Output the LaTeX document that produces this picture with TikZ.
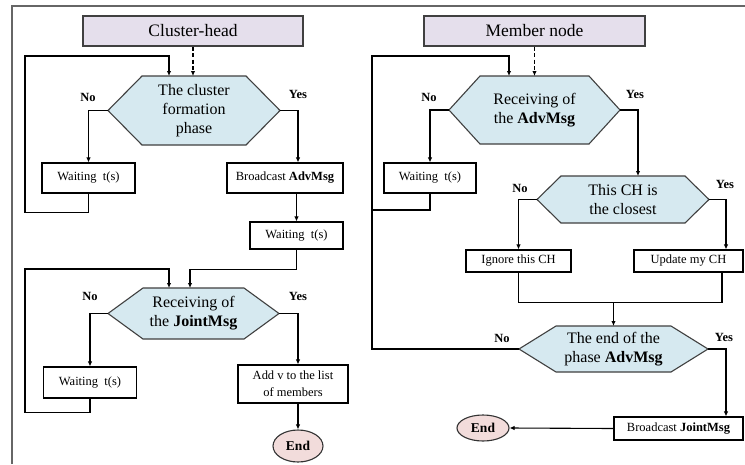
\documentclass[tikz,border=0pt]{standalone}
\usepackage{fontspec}
\setmainfont{Liberation Serif}
\usetikzlibrary{arrows.meta,calc,shapes.geometric}
\definecolor{lav}{HTML}{E5DFEC}
\definecolor{hexblue}{HTML}{D6E9F0}
\definecolor{endpink}{HTML}{F2DCDB}
\tikzset{
 box/.style={draw=black,line width=1.1pt,fill=white,inner sep=0pt,font=\fontsize{12.5}{17}\selectfont,align=center},
 hdr/.style={draw=black!75,line width=1.1pt,fill=lav,font=\fontsize{17.5}{20}\selectfont,inner sep=0pt},
 hexst/.style={draw=black!75,line width=1.1pt,fill=hexblue},
 hextxt/.style={font=\fontsize{16}{19}\selectfont,align=center,inner sep=0pt},
 endst/.style={ellipse,draw=black!80,line width=1.1pt,fill=endpink,font=\bfseries\fontsize{13.5}{16}\selectfont,inner sep=0pt},
 conn/.style={line width=1.1pt,-{Latex[length=5pt,width=4.5pt]}},
 plain/.style={line width=1.1pt},
 lbl/.style={font=\bfseries\fontsize{12.5}{15}\selectfont},
 dashconn/.style={conn,dash pattern=on 4pt off 2.5pt},
}
% name, cx, cy, halfwidth, halfheight, inset, text
\newcommand\mkhex[7]{%
 \draw[hexst] (#2-#4,#3) -- (#2-#4+#6,#3-#5) -- (#2+#4-#6,#3-#5) -- (#2+#4,#3) -- (#2+#4-#6,#3+#5) -- (#2-#4+#6,#3+#5) -- cycle;
 \coordinate (#1-l) at (#2-#4,#3);
 \coordinate (#1-r) at (#2+#4,#3);
 \coordinate (#1-t) at (#2,#3-#5);
 \node[hextxt] (#1) at (#2,#3) {#7};
}
\begin{document}
\begin{tikzpicture}[x=1pt,y=-1pt]
\useasboundingbox (0,0) rectangle (745,464);
\fill[white] (0,0) rectangle (745,464);
\draw[black!60,line width=2pt] (12,464) -- (12,6) -- (745,6);

% ---------- Cluster-head ----------
\node[hdr,minimum width=220pt,minimum height=30pt] (hdr1) at (193,31) {Cluster-head};
\mkhex{h1}{194}{110.5}{86}{34.5}{34}{The cluster\\formation\\phase}
\node[box,minimum width=93pt,minimum height=30pt] (w1) at (88.5,178) {Waiting~~t(s)};
\node[box,minimum width=116pt,minimum height=30pt] (bA) at (285,178) {Broadcast \textbf{AdvMsg}};
\node[box,minimum width=93pt,minimum height=27pt] (w2) at (296.5,235.5) {Waiting~~t(s)};
\mkhex{h2}{193.5}{313.5}{85.5}{25.5}{35}{Receiving of\\the \textbf{JointMsg}}
\node[box,minimum width=93pt,minimum height=31pt] (w3) at (90,382.5) {Waiting~~t(s)};
\node[box,minimum width=110pt,minimum height=38pt] (addv) at (293,384) {Add v to the list\\of members};
\node[endst,minimum width=50pt,minimum height=32pt] (endA) at (298,446) {End};

\node[lbl] at (88,97) {No};
\node[lbl] at (298,94) {Yes};
\node[lbl] at (90,296) {No};
\node[lbl] at (298,296) {Yes};

\draw[dashconn] (hdr1.south) -- (hdr1.south |- h1-t);
\draw[conn] (w1.south) -- ++(0,19) -| (25,56) -| ([xshift=-25pt]h1-t);
\draw[conn] (h1-l) -| (w1.north);
\draw[conn] (h1-r) -| ([xshift=13pt]bA.north);
\draw[conn] (w2.north |- bA.south) -- (w2.north);
\draw[conn] (w2.south) -- ++(0,20) -| ([xshift=-3.5pt]h2-t);
\draw[conn] (w3.south) -- ++(0,13.5) -| (25,269) -| ([xshift=-24.5pt]h2-t);
\draw[conn] (h2-l) -| (w3.north);
\draw[conn] (h2-r) -| ([xshift=5pt]addv.north);
\draw[conn] ([xshift=5pt]addv.south) -- (endA.north);

% ---------- Member node ----------
\node[hdr,minimum width=221pt,minimum height=30pt] (hdr2) at (534.5,31) {Member node};
\mkhex{h3}{534.5}{110}{85.5}{34}{31}{Receiving of\\the \textbf{AdvMsg}}
\node[box,minimum width=92pt,minimum height=30pt] (w4) at (430,178) {Waiting~~t(s)};
\mkhex{h4}{623}{199.5}{86}{23.5}{24}{This CH is\\the closest}
\node[box,minimum width=105pt,minimum height=22pt] (ign) at (518.5,261) {Ignore this CH};
\node[box,minimum width=109pt,minimum height=22pt] (upd) at (688.5,261) {Update my CH};
\mkhex{h5}{613.5}{349}{94.5}{23}{37}{The end of the\\phase \textbf{AdvMsg}}
\node[box,minimum width=129pt,minimum height=23pt] (bJ) at (678.5,428.5) {Broadcast \textbf{JointMsg}};
\node[endst,minimum width=52pt,minimum height=26pt] (endB) at (483,428) {End};

\node[lbl] at (429,97) {No};
\node[lbl] at (635,94) {Yes};
\node[lbl] at (520,188) {No};
\node[lbl] at (725,184) {Yes};
\node[lbl] at (502,338) {No};
\node[lbl] at (724,337) {Yes};

\draw[dashconn] (hdr2.south) -- (hdr2.south |- h3-t);
\draw[conn] (h5-l) -| (372,56) -| ([xshift=-25.5pt]h3-t);
\draw[plain] (w4.south) |- (372,210);
\draw[conn] (h3-l) -| (w4.north);
\draw[conn] (h3-r) -| ([xshift=15pt]h4-t);
\draw[conn] (h4-l) -| (ign.north);
\draw[conn] (h4-r) -| ([xshift=37.5pt]upd.north);
\draw[plain] (ign.south) -- ++(0,30) -| ([xshift=33.5pt]upd.south);
\coordinate (mj) at (613.5,302);
\draw[conn] (mj) -- (h5-t);
\draw[conn] (h5-r) -| ([xshift=47.5pt]bJ.north);
\draw[conn] (bJ.west) -- (endB.east);
\end{tikzpicture}
\end{document}
